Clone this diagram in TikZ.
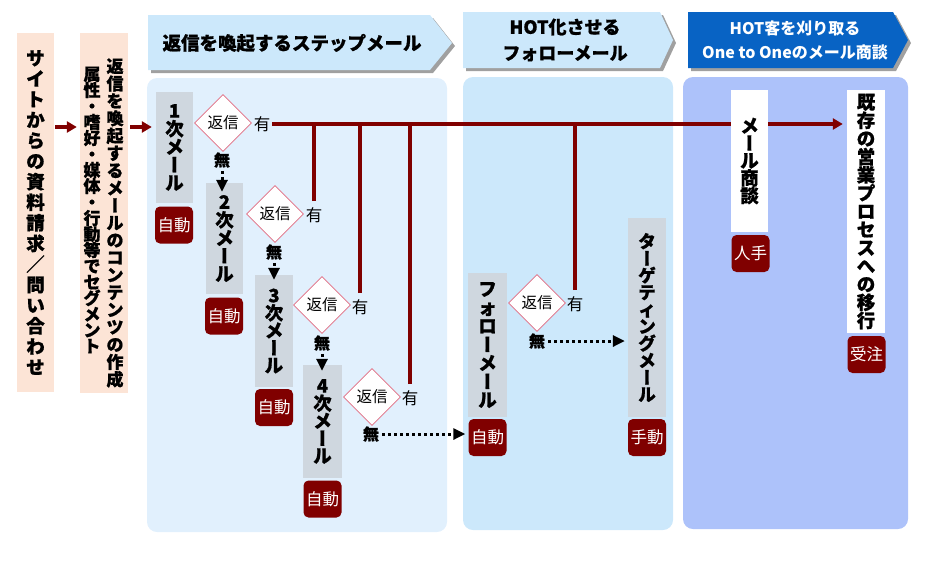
\documentclass[tikz,border=0pt]{standalone}
\usepackage{fontspec}
\setmainfont{Noto Sans CJK JP}
\newfontfamily\heavy{Noto Sans CJK JP}[FakeBold=0.8]
\usepackage{graphicx}
\usetikzlibrary{shapes.geometric,arrows.meta,calc}
\definecolor{dred}{HTML}{800000}
\definecolor{peach}{HTML}{FCE4D6}
\definecolor{pan1}{HTML}{E1F0FD}
\definecolor{pan2}{HTML}{CCE8FB}
\definecolor{pan3}{HTML}{ADC2FA}
\definecolor{hdr}{HTML}{CCE8FB}
\definecolor{hdrdark}{HTML}{0863C4}
\definecolor{grayb}{HTML}{CFD7DF}
\definecolor{shad}{HTML}{A0A0A0}
\definecolor{dia}{HTML}{E06A80}
\newcommand\fsz[1]{\fontsize{#1}{#1}\selectfont}
\newcommand\vbar{\rotatebox[origin=c]{90}{\hbox{\vrule width 0pt height .88em depth .12em ー}}}
\ExplSyntaxOn
\cs_new_protected:Npn \my_vchar:n #1
 {
  \hbox_to_wd:nn {1.3em}
   {
    \hfil
    \str_if_eq:nnTF {#1} {ー} { \vbar } {#1}
    \hfil
   }
 }
\NewDocumentCommand \vtext { m m }
 {
  \vbox:n
   {
    \skip_set:Nn \baselineskip {#1pt}
    \dim_set:Nn \lineskiplimit {-100pt}
    \skip_set:Nn \lineskip {0pt}
    \tl_map_inline:nn {#2} { \my_vchar:n {##1} }
   }
 }
\ExplSyntaxOff
\tikzset{
  peachbox/.style={fill=peach, inner sep=0pt},
  graybox/.style={fill=grayb, inner sep=0pt, font=\heavy\bfseries\fsz{18.5}},
  whitebox/.style={fill=white, inner sep=0pt, font=\heavy\bfseries\fsz{18.5}},
  badge/.style={fill=dred, rounded corners=5pt, text=white, font=\fsz{16.5}, inner sep=0pt, minimum width=38pt, minimum height=37pt},
  dec/.style={diamond, draw=dia, line width=0.8pt, fill=white, inner sep=0pt, minimum width=57pt, minimum height=57pt, font=\fsz{15.5}},
  yes/.style={inner sep=0pt, font=\fsz{16.5}},
  no/.style={inner sep=0pt, font=\heavy\bfseries\fsz{16}},
  redline/.style={draw=dred, line width=3.5pt},
  redarrow/.style={draw=dred, line width=3.5pt, -{Triangle[length=10pt,width=11pt]}},
  dotarrow/.style={line width=3pt, dash pattern=on 3pt off 3pt, -{Triangle[length=12pt,width=11pt]}},
  vtxt/.style={inner sep=0pt, font=\heavy\bfseries\fsz{17}},
}
\begin{document}
\begin{tikzpicture}[x=1pt,y=-1pt]
\useasboundingbox (0,0) rectangle (925,563);
% panels
\fill[pan1, rounded corners=10pt] (147,78) rectangle (447,532);
\fill[pan2, rounded corners=10pt] (463,77) rectangle (673,530);
\fill[pan3, rounded corners=10pt] (683,77) rectangle (908,529);
% headers
\fill[shad] (151,18) -- (433,18) -- (455,46) -- (433,73) -- (151,73) -- cycle;
\fill[hdr] (148,15) -- (430,15) -- (452,43) -- (430,70) -- (148,70) -- cycle;
\node[inner sep=0pt, font=\heavy\bfseries\fsz{18.5}] (h1) at (292,43) {返信を喚起するステップメール};
\fill[shad] (466,15) -- (663,15) -- (676,43) -- (663,71) -- (466,71) -- cycle;
\fill[hdr] (463,12) -- (660,12) -- (673,40) -- (660,68) -- (463,68) -- cycle;
\node[inner sep=0pt, font=\heavy\bfseries\fontsize{18}{26}\selectfont, align=center] (h2) at (565,40) {HOT化させる\\フォローメール};
\fill[shad] (691,15) -- (896,15) -- (911,43) -- (896,71) -- (691,71) -- cycle;
\fill[hdrdark] (688,12) -- (893,12) -- (908,40) -- (893,68) -- (688,68) -- cycle;
\node[inner sep=0pt, text=white, font=\bfseries\fontsize{16}{24}\selectfont, align=center] (h3) at (795,40) {HOT客を刈り取る\\One to Oneのメール商談};
% left boxes
\node[peachbox, minimum width=37pt, minimum height=359pt, font=\heavy\bfseries\fsz{18.5}] (src) at (35.5,212.5) {\vtext{20.6}{サイトからの資料請求／問い合わせ}};
\node[peachbox, minimum width=48pt, minimum height=360pt] (seg) at (104,213) {};
\node[vtxt] (segR) at (115,223) {\vtext{17.4}{返信を喚起するメールのコンテンツの作成}};
\node[vtxt] (segL) at (92,210) {\vtext{16}{属性・嗜好・媒体・行動等でセグメント}};
% mail boxes
\node[graybox, minimum width=37pt, minimum height=111pt] (m1) at (174.5,147.5) {\vtext{18}{1次メール}};
\node[graybox, minimum width=37pt, minimum height=111pt] (m2) at (224.5,238.5) {\vtext{18}{2次メール}};
\node[graybox, minimum width=38pt, minimum height=112pt] (m3) at (274,331) {\vtext{17.5}{3次メール}};
\node[graybox, minimum width=39pt, minimum height=113pt] (m4) at (322.5,421.5) {\vtext{17.5}{4次メール}};
\node[graybox, minimum width=39pt, minimum height=144pt] (fm) at (487.5,345) {\vtext{18.5}{フォローメール}};
\node[graybox, minimum width=38pt, minimum height=199pt, font=\heavy\bfseries\fsz{17.5}] (tm) at (647,317.5) {\vtext{17}{ターゲティングメール}};
\node[whitebox, minimum width=38pt, minimum height=243pt] (goal) at (866,211.5) {\vtext{18.2}{既存の営業プロセスへの移行}};
% badges
\node[badge] (b1) at (174,225) {自動};
\node[badge] (b2) at (224,316) {自動};
\node[badge] (b3) at (274,407.5) {自動};
\node[badge] (b4) at (322.5,499) {自動};
\node[badge] (fb) at (487.5,437.5) {自動};
\node[badge] (tb) at (647,437.5) {手動};
\node[badge] (hb) at (750.5,253.5) {人手};
\node[badge] (jb) at (866.5,354.5) {受注};
% decisions
\node[dec] (d1) at (223,123) {返信};
\node[dec] (d2) at (275,214) {返信};
\node[dec] (d3) at (322,305) {返信};
\node[dec] (d4) at (372,397) {返信};
\node[dec] (df) at (537,303) {返信};
\node[yes] (y1) at (262,124) {有};
\node[yes] (y2) at (314,215) {有};
\node[yes] (y3) at (360,307) {有};
\node[yes] (y4) at (410,398) {有};
\node[yes] (yf) at (575,304) {有};
\node[no] (n1) at (222,160) {無};
\node[no] (n2) at (274,252) {無};
\node[no] (n3) at (322,343) {無};
\node[no] (n4) at (371,434) {無};
\node[no] (nf) at (537,341) {無};
% red connectors
\coordinate (r0) at (0,127);
\draw[redarrow, shorten <=1pt, shorten >=3pt] (src.east |- r0) -- (seg.west |- r0);
\draw[redarrow, shorten <=2pt, shorten >=4pt] (seg.east |- r0) -- (m1.west |- r0);
\draw[redarrow, shorten <=2pt, shorten >=4pt] (y1.east) -- (goal.west |- y1.east);
\draw[redline, shorten <=6pt] (y2.north) -- (y2.north |- y1.east);
\draw[redline, shorten <=6pt] (y3.north) -- (y3.north |- y1.east);
\draw[redline, shorten <=6pt] (y4.north) -- (y4.north |- y1.east);
\draw[redline, shorten <=6pt] (yf.north) -- (yf.north |- y1.east);
% white box over the line
\node[whitebox, minimum width=37pt, minimum height=142pt] (ms) at (749.5,161) {\vtext{17.5}{メール商談}};
% dotted "no" arrows
\draw[dotarrow, shorten <=3pt] (n1.south) -- ($(m2.north -| n1)+(0,9)$);
\draw[dotarrow, shorten <=3pt] (n2.south) -- ($(m3.north -| n2)+(0,5)$);
\draw[dotarrow, shorten <=3pt] (n3.south) -- ($(m4.north -| n3)+(0,6)$);
\draw[dotarrow, shorten <=3pt, shorten >=3pt] (n4.east) -- (fb.west |- n4.east);
\draw[dotarrow, shorten <=3pt, shorten >=3pt] (nf.east) -- (tm.west |- nf.east);
\end{tikzpicture}
\end{document}
